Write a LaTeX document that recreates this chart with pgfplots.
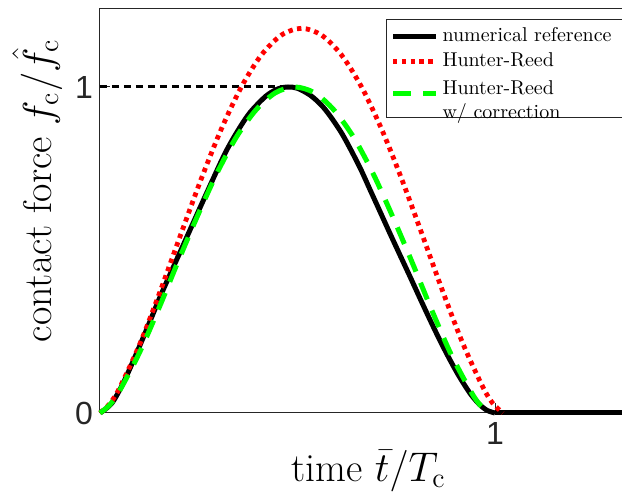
\documentclass[border=0pt]{standalone}
\usepackage{fontspec}
\usepackage{pgfplots}
\pgfplotsset{compat=1.18}
\newfontfamily\tickfont{Liberation Sans}
\definecolor{axgray}{rgb}{0.15,0.15,0.15}
\begin{document}
\begin{tikzpicture}
\begin{axis}[
  scale only axis,
  width=268.6pt, height=202.25pt,
  xmin=0, xmax=1.36, ymin=0, ymax=1.2408,
  clip=false,
  axis line style={axgray, line width=0.5pt},
  tick style={axgray, line width=0.5pt},
  tick align=inside,
  major tick length=5pt,
  xtick={1}, xticklabels={\tickfont 1},
  ytick={0,1}, yticklabels={\tickfont 0,\tickfont 1},
  xtick pos=bottom, ytick pos=left,
  tick label style={font=\fontsize{16}{18}\selectfont, text=axgray},
  xticklabel style={yshift=-1pt},
  xlabel={time $\bar{t}/T_{\mathrm{c}}$},
  ylabel={contact force $f_{\mathrm{c}}/\hat{f}_{\mathrm{c}}$},
  label style={font=\fontsize{20}{22}\selectfont},
  xlabel style={at={(axis description cs:0.5,0)}, anchor=base, yshift=-34.3pt},
  ylabel style={at={(axis description cs:-0.0894,0.549)}, anchor=base},
  legend image code/.code={\draw[#1] (0pt,0pt) -- (21.5pt,0pt);},
  legend style={at={(axis description cs:0.5324,0.9733)}, anchor=north west,
    draw=axgray, line width=0.5pt, font=\fontsize{10}{12}\selectfont,
    cells={anchor=west}, inner xsep=2pt, inner ysep=2pt, row sep=0pt},
]
\addplot[black, line width=1.5pt, dash pattern=on 3.5pt off 2.5pt, forget plot] coordinates {(0,1) (0.476,1)};
\addplot[black, line width=2.5pt, smooth, tension=0.5] coordinates {
(0,0) (0.03,0.03) (0.06,0.095) (0.09,0.176) (0.12,0.262) (0.156,0.367) (0.207,0.505)
(0.266,0.664) (0.316,0.795) (0.35,0.868) (0.38,0.922) (0.42,0.972) (0.45,0.994)
(0.476,1.0) (0.50,0.996) (0.532,0.975) (0.56,0.945) (0.582,0.912) (0.61,0.862)
(0.633,0.812) (0.66,0.748) (0.684,0.684) (0.71,0.615) (0.734,0.551) (0.76,0.483)
(0.785,0.418) (0.81,0.352) (0.835,0.287) (0.86,0.224) (0.886,0.163) (0.91,0.111)
(0.937,0.060) (0.96,0.027) (0.98,0.008) (1.0,0)};
\addlegendentry{numerical reference\hspace*{14pt}}
\addplot[black, line width=2.5pt, forget plot] coordinates {(1.0,0) (1.36,0)};
\addplot[red, line width=2.4pt, dash pattern=on 2.2pt off 2.2pt, smooth] coordinates {
(0,0) (0.0255,0.0295) (0.051,0.0801) (0.102,0.2149) (0.153,0.3755) (0.204,0.5461)
(0.255,0.7138) (0.306,0.8678) (0.357,0.9982) (0.408,1.0972) (0.459,1.1590) (0.51,1.18)
(0.561,1.159) (0.612,1.0972) (0.663,0.9982) (0.714,0.8678) (0.765,0.7138)
(0.816,0.5461) (0.867,0.3755) (0.918,0.2149) (0.969,0.0801) (0.9945,0.0295) (1.02,0)};
\addlegendentry{Hunter-Reed}
\addplot[green, line width=2.5pt, dash pattern=on 9pt off 6pt, smooth] coordinates {
(0,0) (0.0247,0.025) (0.0494,0.0679) (0.0987,0.1821) (0.148,0.3182) (0.197,0.4628)
(0.247,0.6049) (0.296,0.7354) (0.345,0.8459) (0.395,0.9298) (0.444,0.9822) (0.4935,1)
(0.543,0.9822) (0.592,0.9298) (0.642,0.8459) (0.691,0.7354) (0.740,0.6049)
(0.790,0.4628) (0.839,0.3182) (0.888,0.1821) (0.938,0.0679) (0.962,0.025) (0.987,0)};
\addlegendentry{\begin{tabular}[c]{@{}l@{}}Hunter-Reed\\w/ correction\end{tabular}}
\end{axis}
\pgfresetboundingbox
\path[use as bounding box] (current axis.south west) ++(-50pt,-39.5pt) rectangle ++(311pt,246pt);
\end{tikzpicture}
\end{document}
